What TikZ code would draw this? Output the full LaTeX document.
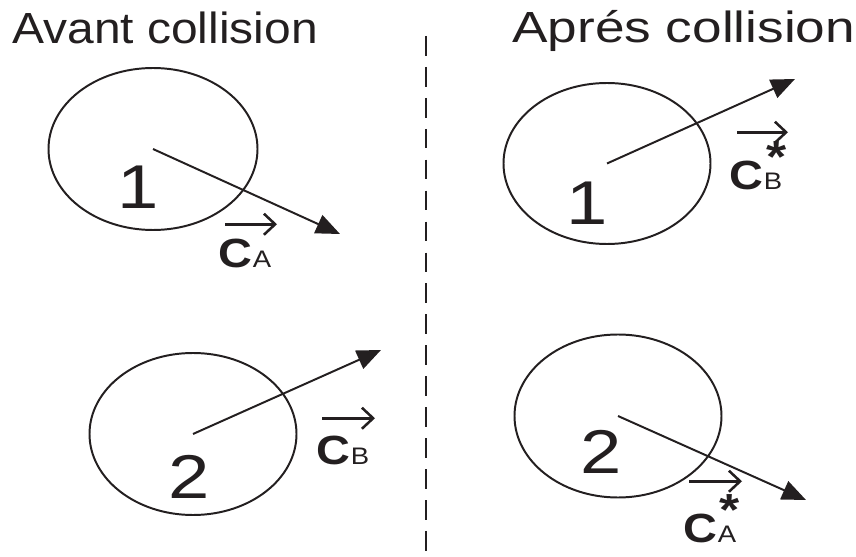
\documentclass[tikz,border=0pt]{standalone}
\usepackage{fontspec}
\setmainfont{Liberation Sans}
\usetikzlibrary{arrows.meta,positioning}

\newcommand{\etoile}{\raisebox{-0.41em}[0.31em][0pt]{*}}

\begin{document}
\begin{tikzpicture}[x=0.025cm, y=-0.025cm,
  every node/.style={inner sep=0pt, text=colTrait},
  titre/.style={font=\fontsize{31}{36}\selectfont, anchor=base west},
  chiffre/.style={font=\fontsize{44}{50}\selectfont, xscale=1.2},
  vecC/.style={font=\fontsize{29}{32}\selectfont\bfseries, anchor=base west, xscale=1.15},
  vecInd/.style={font=\fontsize{17}{20}\selectfont, anchor=base west, xscale=1.15},
  vecEt/.style={font=\fontsize{32}{40}\selectfont\bfseries, anchor=north, xscale=1.15},
  balle/.style={draw=colTrait, line width=1.4pt},
  vitesse/.style={draw=colTrait, line width=1.4pt, -{Triangle[length=17pt,width=14pt]}},
  fleche/.style={draw=colTrait, line width=1.8pt, -{Straight Barb[length=8pt,width=15pt]}},
  separ/.style={draw=colTrait, line width=1.8pt, dash pattern=on 14pt off 8pt}]

% Couleurs
\definecolor{colTrait}{HTML}{231F20}

\useasboundingbox (0,0) rectangle (856,557);

% Titres
\node[titre, xscale=1.1] (avant) at (12,44) {Avant collision};
\node[titre, xscale=1.22] (apres) at (512,43) {Aprés collision};

% Séparation
\coordinate (haut) at (426,36);
\coordinate (bas) at (426,557);
\draw[separ] (haut) -- (bas);

% Centres des balles et pointes des vitesses
\coordinate (b1av) at (153,149);
\coordinate (b2av) at (193,434);
\coordinate (b1ap) at (607,163.5);
\coordinate (b2ap) at (618,416);
\coordinate (p1av) at (340,234);
\coordinate (p2av) at (381,350);
\coordinate (p1ap) at (795,79);
\coordinate (p2ap) at (806,500);

% Balles
\draw[balle] (b1av) ellipse [x radius=104.5, y radius=81];
\draw[balle] (b2av) ellipse [x radius=103.5, y radius=81];
\draw[balle] (b1ap) ellipse [x radius=103.5, y radius=80.5];
\draw[balle] (b2ap) ellipse [x radius=103.5, y radius=81.5];

% Vitesses
\draw[vitesse] (b1av) -- (p1av);
\draw[vitesse] (b2av) -- (p2av);
\draw[vitesse] (b1ap) -- (p1ap);
\draw[vitesse] (b2ap) -- (p2ap);

% Numéros
\node[chiffre] (n1av) at (138,187) {1};
\node[chiffre] (n2av) at (189,477) {2};
\node[chiffre] (n1ap) at (587,203) {1};
\node[chiffre] (n2ap) at (601,452) {2};

% Avant : C_A
\node[vecC] (cA) at (218,268) {C};
\node[vecInd] (cAind) at (cA.base east) {A};
\draw[fleche] ([shift={(7,-15)}]cA.north west) -- +(52,0);

% Avant : C_B
\node[vecC] (cB) at (316,464) {C};
\node[vecInd] (cBind) at (cB.base east) {B};
\draw[fleche] ([shift={(6,-17)}]cB.north west) -- +(53,0);

% Après : C*_B
\node[vecC] (cBet) at (729,190) {C};
\node[vecInd] (cBetind) at (cBet.base east) {B};
\node[vecEt] (etB) at ([shift={(4,-33)}]cBetind.north) {\etoile};
\draw[fleche] ([shift={(8,-29)}]cBet.north west) -- +(51,0);

% Après : C*_A
\node[vecC] (cAet) at (683,542) {C};
\node[vecInd] (cAetind) at (cAet.base east) {A};
\node[vecEt] (etA) at ([shift={(3,-32)}]cAetind.north) {\etoile};
\draw[fleche] ([shift={(6,-32)}]cAet.north west) -- +(53,0);

\end{tikzpicture}
\end{document}
